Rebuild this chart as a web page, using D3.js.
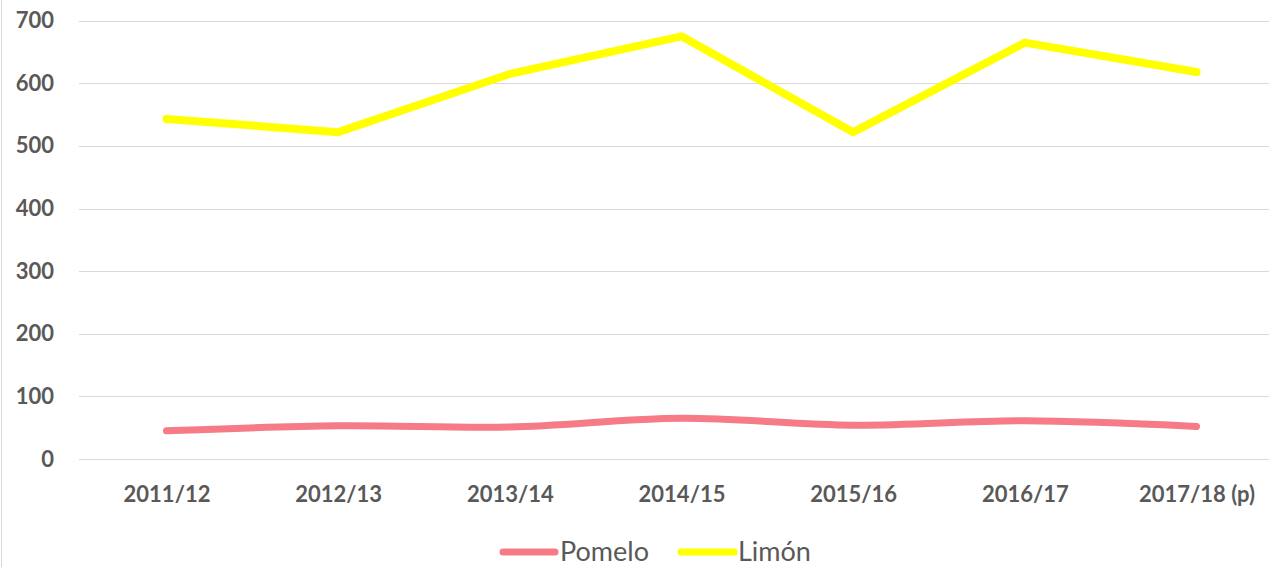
<!DOCTYPE html>
<html>
<head>
<meta charset="utf-8">
<script src="https://cdn.jsdelivr.net/npm/d3@7"></script>
<style>
  html, body { margin: 0; padding: 0; background: #ffffff; }
  svg { display: block; }
</style>
</head>
<body>
<svg id="chart" width="1269" height="567"></svg>
<script>
const categories = ["2011/12", "2012/13", "2013/14", "2014/15", "2015/16", "2016/17", "2017/18 (p)"];
const pomelo = [45, 53, 51, 65, 54, 61, 52];
const limon = [543, 522, 615, 675, 522, 665, 618];
const yTicks = [0, 100, 200, 300, 400, 500, 600, 700];
const seriesNames = ["Pomelo", "Limón"];
const seriesColors = ["#F67B86", "#FFFF00"];

const W = 1269, H = 567;
const svg = d3.select("#chart");
const textColor = "#595959";
const font = "Lato, 'Open Sans', sans-serif";

// frame border on the left
svg.append("line").attr("x1", 1.5).attr("x2", 1.5).attr("y1", 0).attr("y2", H)
  .attr("stroke", "#d9d9d9").attr("stroke-width", 1);

const y = d3.scaleLinear().domain([0, 700]).range([459, 20.7]);
const x = d3.scalePoint().domain(categories).range([166.5, 1196.5]);

// y axis labels
const yAxis = d3.axisLeft(y).tickValues(yTicks).tickSize(0).tickPadding(0);
const gy = svg.append("g").attr("transform", "translate(54,0)").call(yAxis);
gy.select(".domain").remove();
gy.selectAll("text")
  .attr("x", 0)
  .attr("fill", textColor)
  .style("font-family", font)
  .style("font-weight", "700")
  .style("font-size", "22px");

// gridlines
svg.append("g").selectAll("line").data(yTicks).join("line")
  .attr("x1", 79).attr("x2", W)
  .attr("y1", d => Math.round(y(d)) + 0.5).attr("y2", d => Math.round(y(d)) + 0.5)
  .attr("stroke", "#d9d9d9").attr("stroke-width", 1.2);

// x axis labels
const xAxis = d3.axisBottom(x).tickSize(0).tickPadding(0);
const gx = svg.append("g").attr("transform", "translate(0,480)").call(xAxis);
gx.select(".domain").remove();
gx.selectAll("text")
  .attr("y", 22).attr("dy", 0)
  .attr("fill", textColor)
  .style("font-family", font)
  .style("font-weight", "700")
  .style("font-size", "22px");

// lines
const lineSmooth = d3.line().x((d, i) => x(categories[i])).y(d => y(d)).curve(d3.curveCatmullRom.alpha(0.5));
const lineStraight = d3.line().x((d, i) => x(categories[i])).y(d => y(d));

svg.append("path").datum(pomelo)
  .attr("d", lineSmooth)
  .attr("fill", "none").attr("stroke", seriesColors[0])
  .attr("stroke-width", 7).attr("stroke-linecap", "round").attr("stroke-linejoin", "round");

svg.append("path").datum(limon)
  .attr("d", lineStraight)
  .attr("fill", "none").attr("stroke", seriesColors[1])
  .attr("stroke-width", 8).attr("stroke-linecap", "round").attr("stroke-linejoin", "round");

// legend
const legendItems = [
  { name: seriesNames[0], color: seriesColors[0], x1: 503, x2: 555, tx: 560 },
  { name: seriesNames[1], color: seriesColors[1], x1: 681, x2: 734, tx: 738 }
];
const lg = svg.append("g");
legendItems.forEach(it => {
  lg.append("line").attr("x1", it.x1).attr("x2", it.x2).attr("y1", 552).attr("y2", 552)
    .attr("stroke", it.color).attr("stroke-width", 7).attr("stroke-linecap", "round");
  lg.append("text").attr("x", it.tx).attr("y", 561)
    .attr("fill", textColor)
    .style("font-family", font)
    .style("font-size", "27px")
    .text(it.name);
});
</script>
</body>
</html>
